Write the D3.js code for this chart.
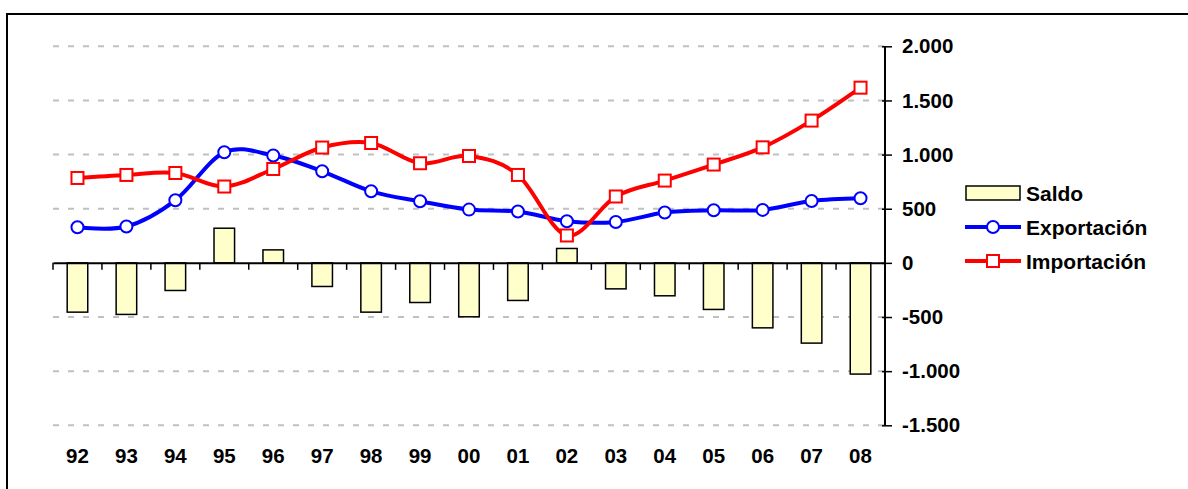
<!DOCTYPE html>
<html>
<head>
<meta charset="utf-8">
<script src="https://cdn.jsdelivr.net/npm/d3@7"></script>
<style>
  body { margin: 0; background: #fff; }
  text { font-family: Arial, "Liberation Sans", sans-serif; font-weight: bold; }
</style>
</head>
<body>
<div id="chart"></div>
<script>
let years = ["92","93","94","95","96","97","98","99","00","01","02","03","04","05","06","07","08"];
let saldo = [-455,-476,-255,320,120,-218,-455,-366,-498,-347,133,-240,-304,-430,-600,-741,-1027];
let exportacion = [329,336,578,1021,991,846,661,569,492,474,385,378,465,486,489,572,597];
let importacion = [784,812,830,705,867,1065,1107,920,987,812,253,613,760,908,1067,1314,1618];
let y_ticks = [2000,1500,1000,500,0,-500,-1000,-1500];
let y_labels = ["2.000","1.500","1.000","500","0","-500","-1.000","-1.500"];

let svg = d3.select("#chart").append("svg").attr("width", 1188).attr("height", 489);

// outer frame
svg.append("rect").attr("x", 7).attr("y", 14).attr("width", 1200).attr("height", 500)
  .style("fill", "none").style("stroke", "black").style("stroke-width", 2);

let x_scale = d3.scaleBand().domain(years).range([53, 885]).padding(0);
let y_scale = d3.scaleLinear().domain([-1500, 2000]).range([425.3, 46.3]);

// gridlines
svg.append("g").selectAll("line").data(y_ticks.filter(d => d != 0)).join("line")
  .attr("x1", 53).attr("x2", 885)
  .attr("y1", d => y_scale(d)).attr("y2", d => y_scale(d))
  .style("stroke", "#c0c0c0").style("stroke-width", 2).style("stroke-dasharray", "6,9");

// bars
let bw = x_scale.bandwidth() * 0.42;
svg.append("g").selectAll("rect").data(saldo).join("rect")
  .attr("x", (d, i) => x_scale(years[i]) + x_scale.bandwidth() / 2 - bw / 2)
  .attr("width", bw)
  .attr("y", d => y_scale(Math.max(0, d)))
  .attr("height", d => Math.abs(y_scale(d) - y_scale(0)))
  .style("fill", "#ffffcc").style("stroke", "black").style("stroke-width", 1.5);

// x axis on zero line
let x_axis = d3.axisBottom(x_scale).tickSize(0).tickFormat("");
let xg = svg.append("g").attr("transform", `translate(0, ${y_scale(0)})`).call(x_axis);
xg.select(".domain").style("stroke", "black").style("stroke-width", 2);
xg.selectAll(".xt").data(d3.range(years.length + 1)).join("line").attr("class", "xt")
  .attr("x1", i => 53 + i * x_scale.bandwidth()).attr("x2", i => 53 + i * x_scale.bandwidth())
  .attr("y1", 0).attr("y2", 7).style("stroke", "black").style("stroke-width", 1.5);

// x labels at bottom
svg.append("g").selectAll("text").data(years).join("text")
  .attr("x", d => x_scale(d) + x_scale.bandwidth() / 2)
  .attr("y", 463)
  .attr("text-anchor", "middle").style("font-size", "20.5px").text(d => d);

// y axis on the right
let y_axis = d3.axisRight(y_scale).tickValues(y_ticks).tickSize(7).tickPadding(10)
  .tickFormat((d, i) => y_labels[i]);
let yg = svg.append("g").attr("transform", "translate(885, 0)").call(y_axis);
yg.select(".domain").attr("d", `M0,${y_scale(2000)}V${y_scale(-1500)}`).style("stroke", "black").style("stroke-width", 2);
yg.selectAll(".tick line").attr("x1", -3).style("stroke", "black").style("stroke-width", 1.5);
yg.selectAll(".tick text").style("font-size", "20.5px").style("font-family", "Arial, 'Liberation Sans', sans-serif")
  .style("font-weight", "bold").attr("fill", "black");

// lines
let line = d3.line()
  .x((d, i) => x_scale(years[i]) + x_scale.bandwidth() / 2)
  .y(d => y_scale(d))
  .curve(d3.curveCardinal.tension(0));

svg.append("path").datum(exportacion).attr("d", line)
  .style("fill", "none").style("stroke", "#0000ff").style("stroke-width", 4);
svg.append("path").datum(importacion).attr("d", line)
  .style("fill", "none").style("stroke", "#ff0000").style("stroke-width", 4);

svg.append("g").selectAll("circle").data(exportacion).join("circle")
  .attr("cx", (d, i) => x_scale(years[i]) + x_scale.bandwidth() / 2)
  .attr("cy", d => y_scale(d)).attr("r", 6)
  .style("fill", "white").style("stroke", "#0000ff").style("stroke-width", 2);

svg.append("g").selectAll("rect").data(importacion).join("rect")
  .attr("x", (d, i) => x_scale(years[i]) + x_scale.bandwidth() / 2 - 6)
  .attr("y", d => y_scale(d) - 6).attr("width", 12).attr("height", 12)
  .style("fill", "white").style("stroke", "#ff0000").style("stroke-width", 2);

// legend
let legend = svg.append("g");
legend.append("rect").attr("x", 966).attr("y", 186).attr("width", 54).attr("height", 14)
  .style("fill", "#ffffcc").style("stroke", "black").style("stroke-width", 1.5);
legend.append("text").attr("x", 1026).attr("y", 201).style("font-size", "21px").text("Saldo");

legend.append("line").attr("x1", 965).attr("x2", 1021).attr("y1", 227).attr("y2", 227)
  .style("stroke", "#0000ff").style("stroke-width", 4);
legend.append("circle").attr("cx", 993).attr("cy", 227).attr("r", 6)
  .style("fill", "white").style("stroke", "#0000ff").style("stroke-width", 2);
legend.append("text").attr("x", 1026).attr("y", 235).style("font-size", "21px").text("Exportación");

legend.append("line").attr("x1", 965).attr("x2", 1021).attr("y1", 261).attr("y2", 261)
  .style("stroke", "#ff0000").style("stroke-width", 4);
legend.append("rect").attr("x", 987).attr("y", 255).attr("width", 12).attr("height", 12)
  .style("fill", "white").style("stroke", "#ff0000").style("stroke-width", 2);
legend.append("text").attr("x", 1026).attr("y", 269).style("font-size", "21px").text("Importación");
</script>
</body>
</html>
